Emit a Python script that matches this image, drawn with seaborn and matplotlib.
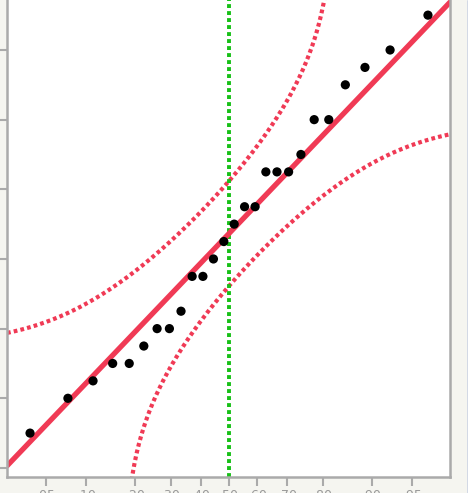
import math
import numpy as np
import matplotlib
matplotlib.use("Agg")
import matplotlib.pyplot as plt
from matplotlib.lines import Line2D
import seaborn as sns
import pandas as pd

values = [2, 4, 5, 6, 6, 7, 8, 8, 9, 11, 11, 12, 13, 14, 15, 15,
          17, 17, 17, 18, 20, 20, 22, 23, 24, 26]
# Probability ticks on the normal quantile axis
prob_ticks = [0.05, 0.10, 0.20, 0.30, 0.40, 0.50, 0.60, 0.70, 0.80, 0.90, 0.95]
prob_labels = ['.05', '.10', '.20', '.30', '.40', '.50', '.60', '.70', '.80', '.90', '.95']
y_ticks = [0, 4, 8, 12, 16, 20, 24]

RED = '#f03a55'
GREEN = '#17c017'
SPINE = '#aaaaaa'
BG = '#f5f5f0'


def norm_cdf(z):
    return 0.5 * (1 + math.erf(z / math.sqrt(2)))


def norm_ppf(p):
    # bisection on the cdf, good enough for plotting
    lo, hi = -10.0, 10.0
    for _ in range(80):
        mid = (lo + hi) / 2
        if norm_cdf(mid) < p:
            lo = mid
        else:
            hi = mid
    return (lo + hi) / 2


n = len(values)
y = np.array(values, dtype=float)
z = np.array([norm_ppf((i + 1) / (n + 1)) for i in range(n)])
mean, sd = y.mean(), y.std(ddof=1)
d_crit = 0.886 / math.sqrt(n)  # Lilliefors 5% critical value

x_lo, x_hi = -1.993, 1.984
y_lo, y_hi = -0.52, 26.87

zz = np.linspace(x_lo, x_hi, 400)
pp = np.array([norm_cdf(v) for v in zz])
upper = np.array([mean + sd * norm_ppf(p + d_crit) if p + d_crit < 1 else np.nan for p in pp])
lower = np.array([mean + sd * norm_ppf(p - d_crit) if p - d_crit > 0 else np.nan for p in pp])

df_pts = pd.DataFrame({'z': z, 'value': y})
df_fit = pd.DataFrame({'z': zz, 'fit': mean + sd * zz, 'upper': upper, 'lower': lower})

sns.set_style('white')
fig = plt.figure(figsize=(4.68, 4.93), dpi=100, facecolor=BG)
ax = fig.add_axes([7 / 468, 16 / 493, 443 / 468, 477 / 493])
ax.set_facecolor('white')

dots = (0, (0.9, 0.75))
sns.lineplot(data=df_fit, x='z', y='upper', ax=ax, color=RED, lw=3.0, linestyle=dots)
sns.lineplot(data=df_fit, x='z', y='lower', ax=ax, color=RED, lw=3.0, linestyle=dots)
ax.axvline(0, color=GREEN, lw=2.8, linestyle=(0, (1.0, 0.8)))
sns.lineplot(data=df_fit, x='z', y='fit', ax=ax, color=RED, lw=3.8)
sns.scatterplot(data=df_pts, x='z', y='value', ax=ax, color='black', s=44,
                edgecolor='none', zorder=5)

ax.set_xlim(x_lo, x_hi)
ax.set_ylim(y_lo, y_hi)
ax.set_xticks([norm_ppf(p) for p in prob_ticks])
ax.set_xticklabels(prob_labels, color='#999999', fontsize=9)
ax.set_yticks(y_ticks)
ax.set_yticklabels([])
ax.set_xlabel('')
ax.set_ylabel('')
ax.tick_params(axis='x', length=6.5, width=1.5, color=SPINE, pad=2, direction='out')
ax.tick_params(axis='y', length=7, width=1.5, color=SPINE, direction='out')
ax.tick_params(left=True, bottom=True)

for side in ['left', 'bottom', 'right']:
    ax.spines[side].set_color(SPINE)
    ax.spines[side].set_linewidth(1.8)
ax.spines['top'].set_visible(False)

fig.add_artist(Line2D([467.5 / 468, 467.5 / 468], [0, 1], color='#4a6ab8', lw=1.0,
                      transform=fig.transFigure))

fig.savefig('out.png', dpi=100, facecolor=BG)
